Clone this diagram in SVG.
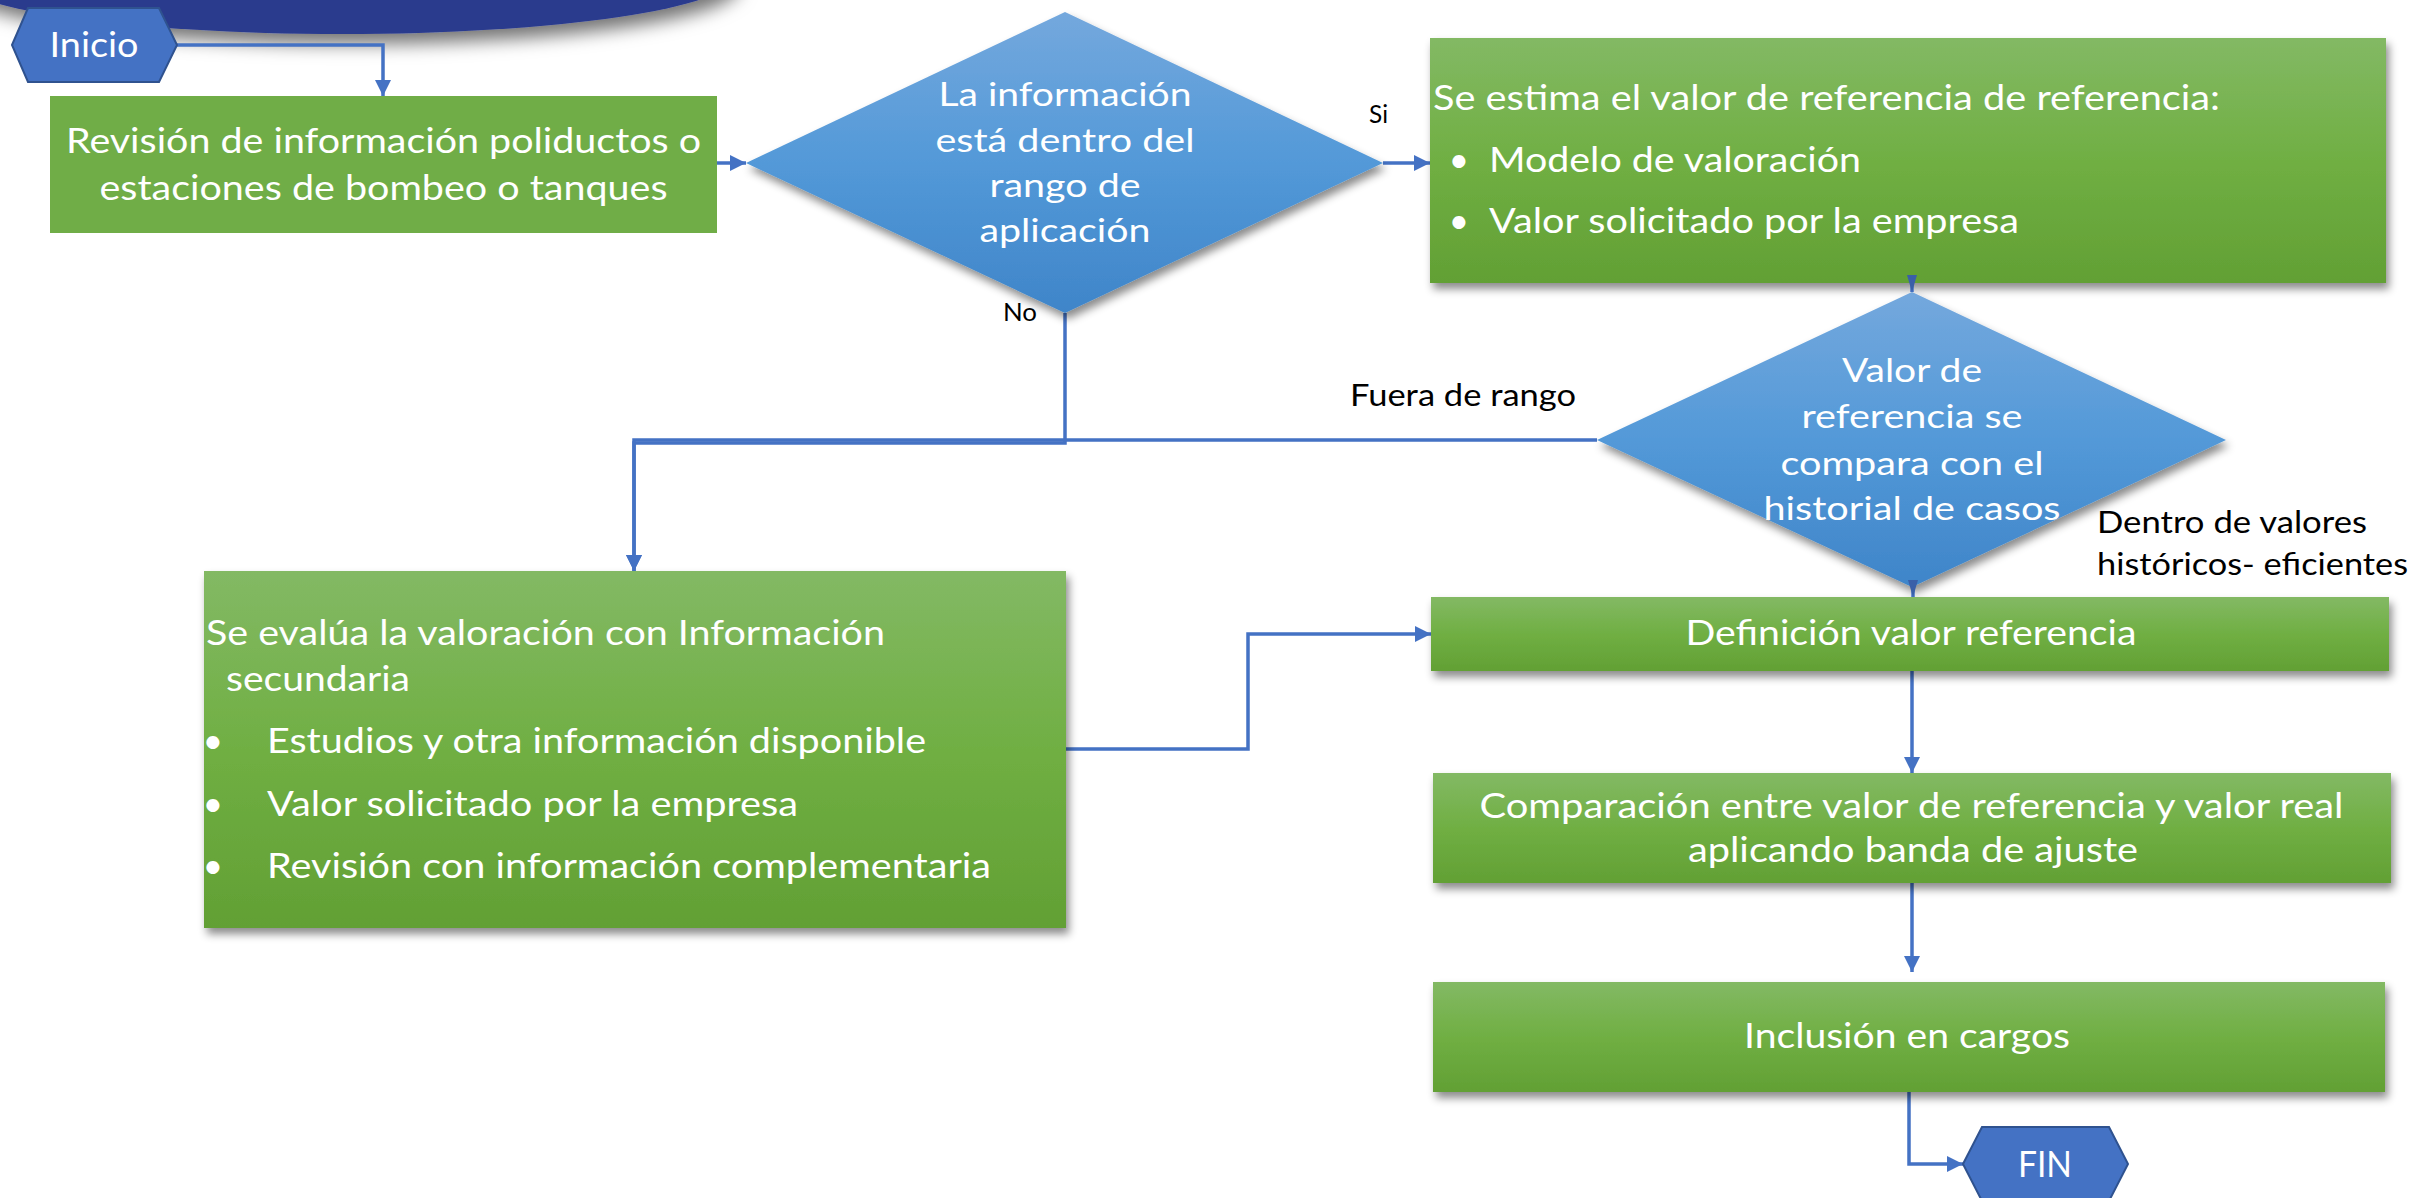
<svg xmlns="http://www.w3.org/2000/svg" width="2433" height="1198" viewBox="0 0 2433 1198">
<style>
  text { font-family: Lato, "Open Sans", "Liberation Sans", sans-serif; }
  .w { fill: #FFFFFF; }
  .k { fill: #000000; }
  .t { font-size: 35px; }
  .td { font-size: 33px; }
  .lb { font-size: 30px; }
  .ls { font-size: 25px; }
  .c { stroke: #4472C4; stroke-width: 3.5; fill: none; }
  .box { fill: url(#gGreen); filter: url(#shadow); }
  .dia { fill: url(#gBlue); filter: url(#shadow); }
  .hex { fill: #4472C4; stroke: #2F528F; stroke-width: 2; }
</style>
<defs>
  <linearGradient id="gGreen" x1="0" y1="0" x2="0" y2="1">
    <stop offset="0" stop-color="#83B964"/>
    <stop offset="0.5" stop-color="#70AF43"/>
    <stop offset="1" stop-color="#62A034"/>
  </linearGradient>
  <linearGradient id="gBlue" x1="0" y1="0" x2="0" y2="1">
    <stop offset="0" stop-color="#74A8DD"/>
    <stop offset="0.5" stop-color="#5399D8"/>
    <stop offset="1" stop-color="#3F85C9"/>
  </linearGradient>
  <filter id="shadow" x="-10%" y="-10%" width="120%" height="130%">
    <feDropShadow dx="3" dy="6" stdDeviation="4" flood-color="#000" flood-opacity="0.45"/>
  </filter>
  <filter id="shadowBig" x="-20%" y="-50%" width="140%" height="250%">
    <feDropShadow dx="6" dy="10" stdDeviation="9" flood-color="#000" flood-opacity="0.55"/>
  </filter>
  <marker id="arr" markerUnits="userSpaceOnUse" markerWidth="18" markerHeight="16" refX="16" refY="8" orient="auto">
    <path d="M0,0 L16,8 L0,16 Z" fill="#4472C4"/>
  </marker>
  <marker id="arrS" markerUnits="userSpaceOnUse" markerWidth="18" markerHeight="12" refX="17" refY="5" orient="auto">
    <path d="M0,0 L17,5 L0,10 Z" fill="#3A5FA8"/>
  </marker>
</defs>

<g id="decoration">
  <ellipse cx="342" cy="-24" rx="392" ry="58" fill="#2A3A8D" filter="url(#shadowBig)"/>
</g>

<g id="connectors">
  <path class="c" d="M177,45 H383 V96" marker-end="url(#arr)"/>
  <path class="c" d="M717,163 H746" marker-end="url(#arr)"/>
  <path class="c" d="M1383,163 H1430" marker-end="url(#arr)"/>
  <path class="c" d="M1065,313 V443 H634 V571" marker-end="url(#arr)"/>
  <path class="c" d="M1597,440 H634 V571" marker-end="url(#arr)"/>
  <path class="c" d="M1066,749 H1248 V634 H1431" marker-end="url(#arr)"/>
  <path class="c" d="M1912,671 V773" marker-end="url(#arr)"/>
  <path class="c" d="M1912,883 V972" marker-end="url(#arr)"/>
  <path class="c" d="M1909,1092 V1164 H1963" marker-end="url(#arr)"/>
</g>

<g id="inicio">
  <polygon class="hex" points="12,45 28,8 159,8 177,45 159,82 28,82"/>
  <text class="w t" x="94" y="57" text-anchor="middle" textLength="89" lengthAdjust="spacingAndGlyphs">Inicio</text>
</g>

<g id="revision">
  <rect x="50" y="96" width="667" height="137" fill="#70AD47"/>
  <text class="w t" x="383.5" y="153" text-anchor="middle" textLength="635" lengthAdjust="spacingAndGlyphs">Revisión de información poliductos o</text>
  <text class="w t" x="383.5" y="200" text-anchor="middle" textLength="568" lengthAdjust="spacingAndGlyphs">estaciones de bombeo o tanques</text>
</g>

<g id="decision1">
  <polygon class="dia" points="1065,12 1383,163 1065,313 746,163"/>
  <text class="w td" x="1065" y="106" text-anchor="middle" textLength="253" lengthAdjust="spacingAndGlyphs">La información</text>
  <text class="w td" x="1065" y="152" text-anchor="middle" textLength="259" lengthAdjust="spacingAndGlyphs">está dentro del</text>
  <text class="w td" x="1065" y="197" text-anchor="middle" textLength="151" lengthAdjust="spacingAndGlyphs">rango de</text>
  <text class="w td" x="1065" y="242" text-anchor="middle" textLength="171" lengthAdjust="spacingAndGlyphs">aplicación</text>
</g>

<g id="estima">
  <rect class="box" x="1430" y="38" width="956" height="245"/>
  <text class="w t" x="1433" y="110" textLength="787" lengthAdjust="spacingAndGlyphs">Se estima el valor de referencia de referencia:</text>
  <text class="w t" x="1459" y="172" text-anchor="middle">•</text>
  <text class="w t" x="1489" y="172" textLength="372" lengthAdjust="spacingAndGlyphs">Modelo de valoración</text>
  <text class="w t" x="1459" y="233" text-anchor="middle">•</text>
  <text class="w t" x="1489" y="233" textLength="530" lengthAdjust="spacingAndGlyphs">Valor solicitado por la empresa</text>
</g>

<g id="decision2">
  <polygon class="dia" points="1912,292 2226,440 1912,587 1597,440"/>
  <text class="w td" x="1912" y="382" text-anchor="middle" textLength="140" lengthAdjust="spacingAndGlyphs">Valor de</text>
  <text class="w td" x="1912" y="428" text-anchor="middle" textLength="221" lengthAdjust="spacingAndGlyphs">referencia se</text>
  <text class="w td" x="1912" y="475" text-anchor="middle" textLength="263" lengthAdjust="spacingAndGlyphs">compara con el</text>
  <text class="w td" x="1912" y="520" text-anchor="middle" textLength="297" lengthAdjust="spacingAndGlyphs">historial de casos</text>
</g>

<g id="secundaria">
  <rect class="box" x="204" y="571" width="862" height="357"/>
  <text class="w t" x="206" y="645" textLength="679" lengthAdjust="spacingAndGlyphs">Se evalúa la valoración con Información</text>
  <text class="w t" x="226" y="691" textLength="184" lengthAdjust="spacingAndGlyphs">secundaria</text>
  <text class="w t" x="213" y="753" text-anchor="middle">•</text>
  <text class="w t" x="267" y="753" textLength="659" lengthAdjust="spacingAndGlyphs">Estudios y otra información disponible</text>
  <text class="w t" x="213" y="816" text-anchor="middle">•</text>
  <text class="w t" x="267" y="816" textLength="531" lengthAdjust="spacingAndGlyphs">Valor solicitado por la empresa</text>
  <text class="w t" x="213" y="878" text-anchor="middle">•</text>
  <text class="w t" x="267" y="878" textLength="724" lengthAdjust="spacingAndGlyphs">Revisión con información complementaria</text>
</g>

<g id="definicion">
  <rect class="box" x="1431" y="597" width="958" height="74"/>
  <text class="w t" x="1911" y="645" text-anchor="middle" textLength="451" lengthAdjust="spacingAndGlyphs">Definición valor referencia</text>
</g>

<g id="comparacion">
  <rect class="box" x="1433" y="773" width="958" height="110"/>
  <text class="w t" x="1911.5" y="818" text-anchor="middle" textLength="864" lengthAdjust="spacingAndGlyphs">Comparación entre valor de referencia y valor real</text>
  <text class="w t" x="1913" y="862" text-anchor="middle" textLength="450" lengthAdjust="spacingAndGlyphs">aplicando banda de ajuste</text>
</g>

<g id="inclusion">
  <rect class="box" x="1433" y="982" width="952" height="110"/>
  <text class="w t" x="1907" y="1048" text-anchor="middle" textLength="326" lengthAdjust="spacingAndGlyphs">Inclusión en cargos</text>
</g>

<g id="fin">
  <polygon class="hex" points="1963,1164 1982,1127 2109,1127 2128,1164 2109,1201 1982,1201"/>
  <text class="w" x="2045" y="1177" text-anchor="middle" font-size="37" textLength="54" lengthAdjust="spacingAndGlyphs">FIN</text>
</g>

<g id="arrows-short">
  <path class="c" d="M1912,276 V292" stroke-width="0" marker-end="url(#arrS)"/>
  <path class="c" d="M1913,583 V597" stroke-width="0" marker-end="url(#arrS)"/>
</g>

<g id="labels">
  <text class="k ls" x="1369" y="123" textLength="19" lengthAdjust="spacingAndGlyphs">Si</text>
  <text class="k ls" x="1003" y="321" textLength="34" lengthAdjust="spacingAndGlyphs">No</text>
  <text class="k lb" x="1350" y="406" textLength="226" lengthAdjust="spacingAndGlyphs">Fuera de rango</text>
  <text class="k lb" x="2097" y="533" textLength="270" lengthAdjust="spacingAndGlyphs">Dentro de valores</text>
  <text class="k lb" x="2097" y="575" textLength="311" lengthAdjust="spacingAndGlyphs">históricos- eficientes</text>
</g>
</svg>
